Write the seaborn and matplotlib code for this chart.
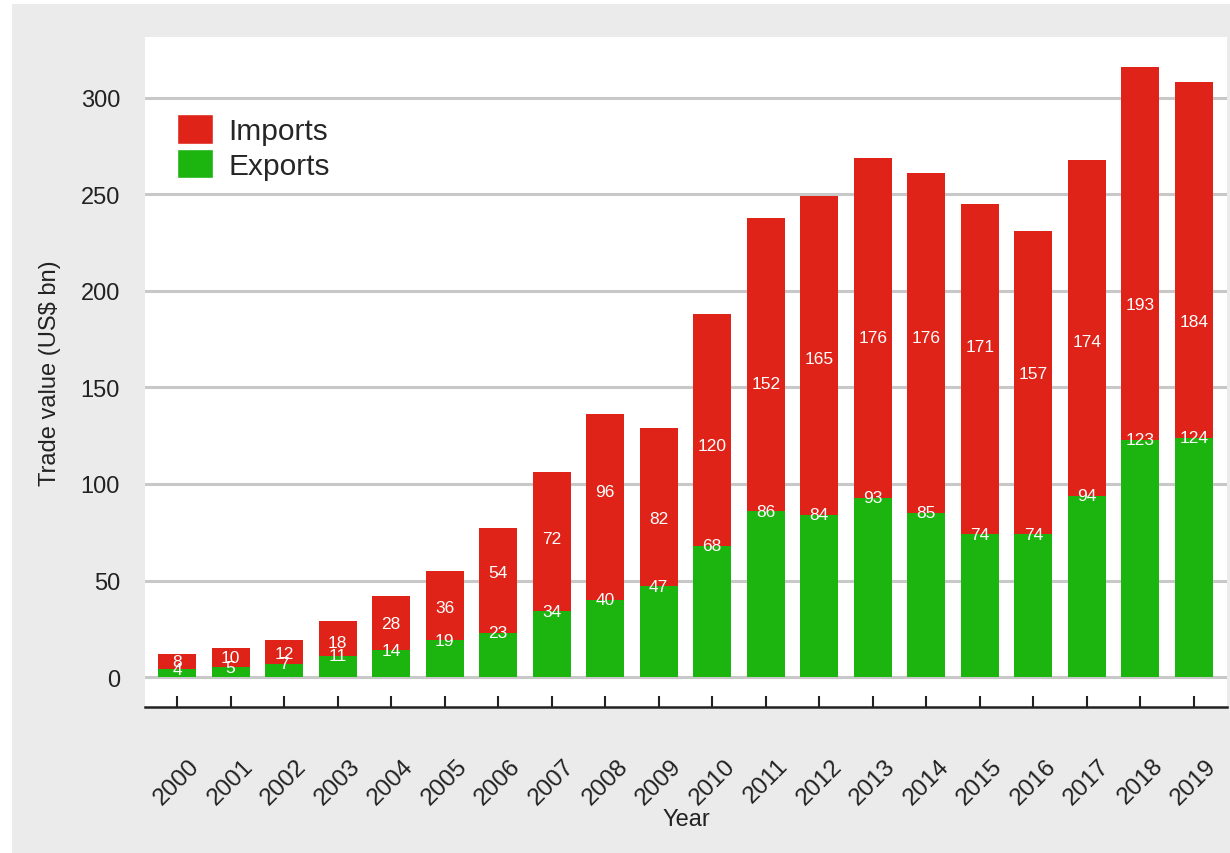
import matplotlib
matplotlib.use("Agg")
import matplotlib.pyplot as plt
from matplotlib.patches import Patch, Rectangle
import seaborn as sns
import pandas as pd

years = [str(y) for y in range(2000, 2020)]
exports = [4, 5, 7, 11, 14, 19, 23, 34, 40, 47, 68, 86, 84, 93, 85, 74, 74, 94, 123, 124]
imports = [8, 10, 12, 18, 28, 36, 54, 72, 96, 82, 120, 152, 165, 176, 176, 171, 157, 174, 193, 184]

red = "#df2318"
green = "#1cb40f"

sns.set_style("white")
plt.rcParams["font.family"] = ["Liberation Sans", "DejaVu Sans"]

df = pd.DataFrame({"Year": years, "Exports": exports, "Imports": imports})
df["Total"] = df["Exports"] + df["Imports"]

fig = plt.figure(figsize=(12.3, 8.54), dpi=100)
fig.patch.set_facecolor("white")
# grey panel behind the chart
fig.patches.append(Rectangle((12 / 1230, 0), 1, 1 - 5 / 854, transform=fig.transFigure,
                             facecolor="#ebebeb", edgecolor="none", zorder=-10))
ax = fig.add_axes([145 / 1230, 1 - 708 / 854, 1082 / 1230, 670 / 854])
ax.set_facecolor("white")

# stacked bars: total (red) behind exports (green)
sns.barplot(data=df, x="Year", y="Total", color=red, width=0.71, saturation=1,
            linewidth=0, ax=ax, zorder=3)
sns.barplot(data=df, x="Year", y="Exports", color=green, width=0.71, saturation=1,
            linewidth=0, ax=ax, zorder=4)

# value labels
for i in range(len(years)):
    ax.text(i, imports[i], str(imports[i]), ha="center", va="center",
            color="white", fontsize=12.5, zorder=6)
    ax.text(i, exports[i], str(exports[i]), ha="center", va="center",
            color="white", fontsize=12.5, zorder=6)

ax.set_ylim(-15.5, 331.5)
ax.set_xlim(-0.6, 19.62)
ax.set_yticks(range(0, 301, 50))
ax.yaxis.grid(True, color="#c8c8c8", linewidth=2.2, zorder=0)
ax.set_axisbelow(True)

for s in ["left", "right", "top"]:
    ax.spines[s].set_visible(False)
ax.spines["bottom"].set_color("#222222")
ax.spines["bottom"].set_linewidth(1.8)

ax.tick_params(axis="y", left=False, length=0, pad=18, labelsize=17, labelcolor="#222222")
ax.tick_params(axis="x", bottom=True, direction="in", length=8, width=1.5, color="#222222",
               pad=34, labelsize=17.5, labelcolor="#222222")
plt.setp(ax.get_xticklabels(), rotation=45, ha="center")

ax.set_xlabel("Year", fontsize=17, color="#222222", labelpad=0)
ax.set_ylabel("Trade value (US$ bn)", fontsize=17, color="#222222", labelpad=14)

handles = [Patch(facecolor=red, label="Imports"), Patch(facecolor=green, label="Exports")]
ax.legend(handles=handles, loc="upper left", bbox_to_anchor=(0.03, 0.885),
          frameon=False, fontsize=21.5, handlelength=1.2, handleheight=1.15,
          handletextpad=0.5, labelspacing=0.12, borderpad=0, borderaxespad=0)

fig.savefig("out.png", dpi=100)
